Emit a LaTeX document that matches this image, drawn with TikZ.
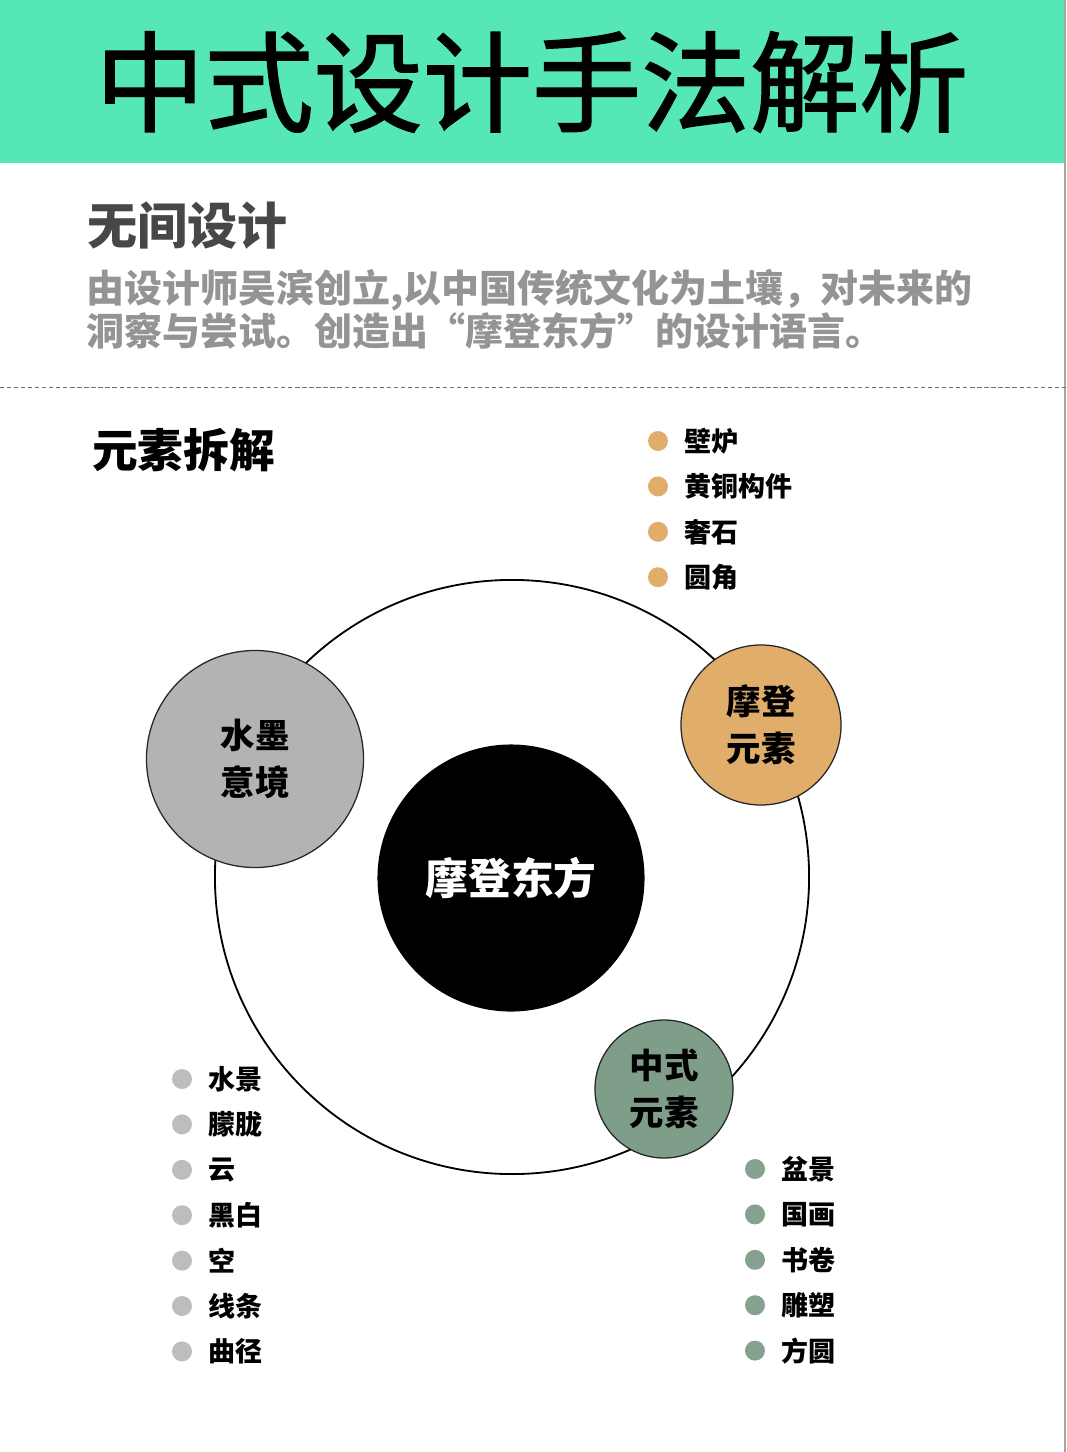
\documentclass[tikz,border=0pt]{standalone}
\usepackage{fontspec}
\setmainfont{Noto Sans CJK SC}
\newfontfamily\titlefont{Noto Sans CJK SC}[UprightFeatures={FakeBold=1.4}]
\usepackage{xcolor}
\usetikzlibrary{calc}
\definecolor{bandgreen}{HTML}{56E8B4}
\definecolor{inkgray}{HTML}{B3B3B3}
\definecolor{moderngold}{HTML}{E0AD6A}
\definecolor{chinagreen}{HTML}{7F9E8A}
\definecolor{dotgray}{HTML}{BDBDBD}
\definecolor{dotgreen}{HTML}{86A18F}
\def\ItemList#1#2#3#4#5{%
	\foreach \t [count=\i] in {#5} {
		\node (#1\i) [item dot, fill=#4] at (#2, {#3+45.4*(\i-1)}) {};
		\node[item text] at ($(#1\i.east)+(16,0)$) {\t};
	}
}
\begin{document}
\begin{tikzpicture}[x=0.025cm, y=-0.025cm,
	item dot/.style={circle, inner sep=0, minimum size=0.5cm},
	item text/.style={anchor=west, inner sep=0, font=\fontsize{19.2}{22}\selectfont\bfseries},
	part circle/.style={circle, draw=black!85, line width=0.9pt, inner sep=0, align=center,
		font=\fontsize{24.5}{33.4}\selectfont\bfseries},
	help lines/.style={draw=black!55, dashed, dash pattern=on 3pt off 2pt, line width=0.6pt}
	]
	\useasboundingbox (0,0) rectangle (1066,1452);
	% header band
	\fill[bandgreen] (0,0) rectangle (1066,163);
	\node (Title) at (532,82) {\titlefont\fontsize{77.6}{80}\selectfont 中式设计手法解析};
	\draw[black!35, line width=1.4pt] (1065,0) -- (1065,1452);
	% intro
	\node (Studio) [anchor=west, inner sep=0, text=black!72] at (87,226)
		{\fontsize{35.6}{40}\selectfont\bfseries 无间设计};
	\node (Intro) [anchor=north west, inner sep=0, text=black!42, align=left,
		font=\fontsize{27}{30.8}\selectfont\bfseries] at (86,269)
		{由设计师吴滨创立,以中国传统文化为土壤，对未来的\\
		洞察与尝试。创造出“摩登东方”的设计语言。};
	\draw[help lines] (0,387) -- (1066,387);
	\node (Breakdown) [anchor=west, inner sep=0] at (92,450)
		{\fontsize{32.5}{36}\selectfont\bfseries 元素拆解};
	% circles
	\node (Ring) [circle, draw=black, line width=1.3pt, minimum size=14.85cm] at (512,877) {};
	\node (Core) [circle, fill=black, inner sep=0, minimum size=6.675cm,
		text=white, font=\fontsize{30.4}{34}\selectfont\bfseries] at (511,878) {摩登东方};
	\node (Ink) [part circle, fill=inkgray, minimum size=5.425cm] at (255,759) {水墨\\意境};
	\node (Modern) [part circle, fill=moderngold, minimum size=4cm] at (761,725) {摩登\\元素};
	\node (Chinese) [part circle, fill=chinagreen, minimum size=3.45cm] at (664,1089) {中式\\元素};
	% item lists
	\ItemList{m}{658}{441}{moderngold}{壁炉,黄铜构件,奢石,圆角}
	\ItemList{g}{182}{1079}{dotgray}{水景,朦胧,云,黑白,空,线条,曲径}
	\ItemList{c}{755}{1169}{dotgreen}{盆景,国画,书卷,雕塑,方圆}
\end{tikzpicture}
\end{document}
